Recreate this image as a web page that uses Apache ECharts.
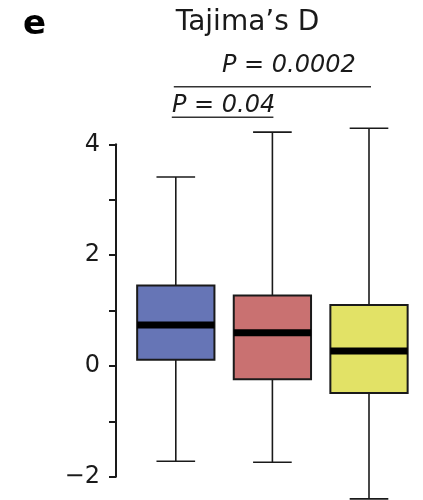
<!DOCTYPE html>
<html>
<head>
<meta charset="utf-8" />
<title>Tajima's D</title>
<script src="https://cdn.jsdelivr.net/npm/echarts@6/dist/echarts.min.js"></script>
<style>
	html, body { margin: 0; padding: 0; background: #fff; }
	#main { width: 423px; height: 500px; }
</style>
</head>
<body>
<div id="main"></div>
<script>
	// data
	var groups = ['A', 'B', 'C'];
	var lowWhisker = [-1.72, -1.74, -2.40];
	var q1 = [0.11, -0.24, -0.49];
	var median = [0.74, 0.60, 0.27];
	var q3 = [1.45, 1.27, 1.10];
	var highWhisker = [3.41, 4.22, 4.29];
	var boxColors = ['#6675b6', '#c97171', '#e2e266'];
	var yTicks = [-2, 0, 2, 4];
	var pLabels = ['P = 0.04', 'P = 0.0002'];

	var font = 'DejaVu Sans';
	var ink = '#1a1a1a';

	var boxData = groups.map(function (g, i) {
		return [i, lowWhisker[i], q1[i], median[i], q3[i], highWhisker[i]];
	});

	function renderBox(params, api) {
		var i = api.value(0);
		var band = api.size([1, 0])[0];
		var half = band * 0.4, cap = half / 2;
		var lo = api.coord([i, api.value(1)]);
		var b1 = api.coord([i, api.value(2)]);
		var md = api.coord([i, api.value(3)]);
		var b3 = api.coord([i, api.value(4)]);
		var hi = api.coord([i, api.value(5)]);
		var x = lo[0];
		var ln = { stroke: ink, lineWidth: 1.6 };
		return {
			type: 'group',
			children: [
				{ type: 'line', shape: { x1: x, y1: hi[1], x2: x, y2: b3[1] }, style: ln },
				{ type: 'line', shape: { x1: x, y1: b1[1], x2: x, y2: lo[1] }, style: ln },
				{ type: 'line', shape: { x1: x - cap, y1: hi[1], x2: x + cap, y2: hi[1] }, style: ln },
				{ type: 'line', shape: { x1: x - cap, y1: lo[1], x2: x + cap, y2: lo[1] }, style: ln },
				{ type: 'rect', shape: { x: x - half, y: b3[1], width: half * 2, height: b1[1] - b3[1] },
				  style: { fill: boxColors[i], stroke: ink, lineWidth: 2 } },
				{ type: 'rect', shape: { x: x - half, y: md[1] - 3.5, width: half * 2, height: 7 },
				  style: { fill: '#000' } }
			]
		};
	}

	var chart = echarts.init(document.getElementById('main'));
	chart.setOption({
		animation: false,
		backgroundColor: '#fff',
		grid: { left: 127.5, right: 5.7, top: 144.3, bottom: 23.3 },
		xAxis: { type: 'category', data: groups, show: false },
		yAxis: {
			type: 'value',
			min: yTicks[0],
			max: yTicks[yTicks.length - 1],
			interval: 1,
			offset: 11.5,
			splitLine: { show: false },
			axisLine: { show: true, lineStyle: { color: ink, width: 2 } },
			axisTick: { show: true, length: 7, lineStyle: { color: ink, width: 2 } },
			axisLabel: {
				margin: 16,
				fontFamily: font,
				fontSize: 24,
				color: ink,
				formatter: function (v) {
					if (yTicks.indexOf(v) < 0) return '';
					return v < 0 ? '\u2212' + Math.abs(v) : String(v);
				}
			}
		},
		series: [{
			type: 'custom',
			renderItem: renderBox,
			encode: { x: 0, y: [1, 2, 3, 4, 5] },
			data: boxData
		}]
	});

	// significance brackets between box centres
	var cx = groups.map(function (g, i) {
		return chart.convertToPixel({ gridIndex: 0 }, [i, 0])[0];
	});
	var bracket = { stroke: '#333', lineWidth: 1.5 };
	chart.setOption({
		graphic: [
			{ type: 'text', left: 23, top: 8,
			  style: { text: 'e', font: 'bold 34px "DejaVu Sans"', fill: '#000' } },
			{ type: 'text', x: 247.5, y: 23,
			  style: { text: "Tajima\u2019s D", font: '28px "DejaVu Sans"', fill: ink, align: 'center', verticalAlign: 'middle' } },
			{ type: 'text', x: 222, y: 66,
			  style: { text: pLabels[1], font: 'italic 24px "DejaVu Sans"', fill: ink, align: 'left', verticalAlign: 'middle' } },
			{ type: 'line', shape: { x1: cx[0] - 2, y1: 86.7, x2: cx[2] + 2, y2: 86.7 }, style: bracket },
			{ type: 'text', x: 172, y: 106,
			  style: { text: pLabels[0], font: 'italic 24px "DejaVu Sans"', fill: ink, align: 'left', verticalAlign: 'middle' } },
			{ type: 'line', shape: { x1: cx[0] - 4, y1: 117.3, x2: cx[1] + 1, y2: 117.3 }, style: bracket }
		]
	});
</script>
</body>
</html>
